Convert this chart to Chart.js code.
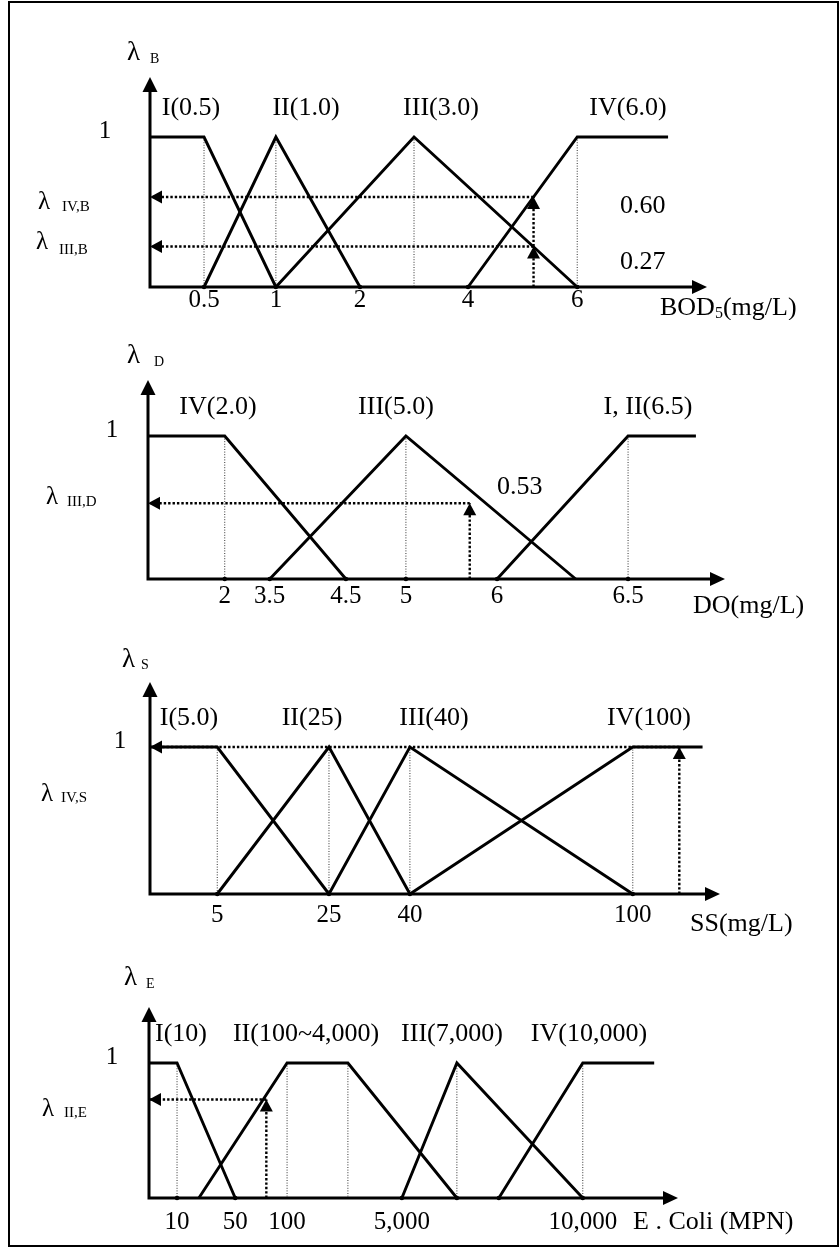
<!DOCTYPE html>
<html>
<head>
<meta charset="utf-8">
<script src="https://cdn.jsdelivr.net/npm/chart.js@4.4.1/dist/chart.umd.min.js"></script>
<style>
  html, body { margin: 0; padding: 0; background: #fff; }
  #page { position: relative; width: 840px; height: 1248px; overflow: hidden; background: #fff; }
  #frame { position: absolute; left: 8px; top: 1px; width: 827px; height: 1242px; border: 2px solid #000; }
  .panel { position: absolute; left: 0; width: 840px; }
  .panel canvas { display: block; }
</style>
</head>
<body>
<div id="page">
  <div id="frame"></div>
  <div class="panel" style="top:0px"><canvas id="bod" width="840" height="320"></canvas></div>
  <div class="panel" style="top:320px"><canvas id="do" width="840" height="300"></canvas></div>
  <div class="panel" style="top:620px"><canvas id="ss" width="840" height="320"></canvas></div>
  <div class="panel" style="top:940px"><canvas id="ecoli" width="840" height="300"></canvas></div>
</div>
<script>
// ---------------- BOD5 (mg/L) ----------------
const bodStopValues = [0, 0.5, 1, 2, 3, 4, 6, 8];
const bodTickValues = [0.5, 1, 2, 4, 6];
const bodTickLabels = ['0.5', '1', '2', '4', '6'];
const bodClassNames = ['I(0.5)', 'II(1.0)', 'III(3.0)', 'IV(6.0)'];
const bodGradeI   = [[0, 1], [0.5, 1], [1, 0]];
const bodGradeII  = [[0.5, 0], [1, 1], [2, 0]];
const bodGradeIII = [[1, 0], [3, 1], [6, 0]];
const bodGradeIV  = [[4, 0], [6, 1], [7.4, 1]];
const bodPeaks = [0.5, 1, 3, 6];
const bodKnots = [0.5, 1, 2, 4, 6];
const bodSample = 5.2;
const bodSampleGrades = [0.60, 0.27];

// ---------------- DO (mg/L) ----------------
const doStopValues = [0, 2, 3.5, 4.5, 5, 6, 6.5, 7.5];
const doTickValues = [2, 3.5, 4.5, 5, 6, 6.5];
const doTickLabels = ['2', '3.5', '4.5', '5', '6', '6.5'];
const doClassNames = ['IV(2.0)', 'III(5.0)', 'I, II(6.5)'];
const doGradeIV   = [[0, 1], [2, 1], [4.5, 0]];
const doGradeIII  = [[3.5, 0], [5, 1], [6.3, 0]];
const doGradeI_II = [[6, 0], [6.5, 1], [7.2, 1]];
const doPeaks = [2, 5, 6.5];
const doKnots = [2, 3.5, 4.5, 5, 6, 6.5];
const doSample = 5.7;
const doSampleGrades = [0.53];

// ---------------- SS (mg/L) ----------------
const ssStopValues = [0, 5, 25, 40, 100, 130];
const ssTickValues = [5, 25, 40, 100];
const ssTickLabels = ['5', '25', '40', '100'];
const ssClassNames = ['I(5.0)', 'II(25)', 'III(40)', 'IV(100)'];
const ssGradeI   = [[0, 1], [5, 1], [25, 0]];
const ssGradeII  = [[5, 0], [25, 1], [40, 0]];
const ssGradeIII = [[25, 0], [40, 1], [100, 0]];
const ssGradeIV  = [[40, 0], [100, 1], [124, 1]];
const ssPeaks = [5, 25, 40, 100];
const ssKnots = [5, 25, 40, 100];
const ssSample = 116;
const ssSampleGrades = [1];

// ---------------- E. Coli (MPN) ----------------
const ecStopValues = [0, 10, 50, 100, 4000, 5000, 7000, 10000, 12000];
const ecTickValues = [10, 50, 100, 5000, 10000];
const ecTickLabels = ['10', '50', '100', '5,000', '10,000'];
const ecClassNames = ['I(10)', 'II(100~4,000)', 'III(7,000)', 'IV(10,000)'];
const ecGradeI   = [[0, 1], [10, 1], [50, 0]];
const ecGradeII  = [[25, 0], [100, 1], [4000, 1], [7000, 0]];
const ecGradeIII = [[5000, 0], [7000, 1], [10000, 0]];
const ecGradeIV  = [[8000, 0], [10000, 1], [11500, 1]];
const ecPeaks = [10, 100, 4000, 7000, 10000];
const ecKnots = [10, 50, 5000, 7000, 8000, 10000];
const ecSample = 80;
const ecSampleGrades = [0.73];

// Spacing of the schematic axes: share of axis length at each stop value
const bodStopSpots = [0, 0.097, 0.226, 0.377, 0.474, 0.571, 0.767, 1];
const doStopSpots  = [0, 0.133, 0.211, 0.343, 0.447, 0.605, 0.832, 1];
const ssStopSpots  = [0, 0.118, 0.314, 0.456, 0.847, 1];
const ecStopSpots  = [0, 0.053, 0.163, 0.261, 0.376, 0.478, 0.582, 0.820, 1];

// ---------------- piecewise-linear axis ----------------
function piecewise(from, to, v) {
  const n = from.length;
  if (v <= from[0]) return to[0] + (v - from[0]) * (to[1] - to[0]) / (from[1] - from[0]);
  for (let i = 1; i < n; i++) {
    if (v <= from[i]) {
      const t = (v - from[i - 1]) / (from[i] - from[i - 1]);
      return to[i - 1] + t * (to[i] - to[i - 1]);
    }
  }
  return to[n - 1] + (v - from[n - 1]) * (to[n - 1] - to[n - 2]) / (from[n - 1] - from[n - 2]);
}

class PiecewiseScale extends Chart.LinearScale {
  determineDataLimits() {
    const s = this.options.stopValues;
    this.min = s[0];
    this.max = s[s.length - 1];
  }
  buildTicks() {
    return this.options.tickValues.map(value => ({ value }));
  }
  getPixelForValue(value) {
    const o = this.options;
    return this.getPixelForDecimal(piecewise(o.stopValues, o.stopSpots, value));
  }
  getValueForPixel(pixel) {
    const o = this.options;
    return piecewise(o.stopSpots, o.stopValues, this.getDecimalForPixel(pixel));
  }
}
PiecewiseScale.id = 'piecewise';
PiecewiseScale.defaults = { ticks: { callback: v => String(v) } };
Chart.register(PiecewiseScale);

Chart.defaults.font.family = "'Liberation Serif', 'Times New Roman', serif";
Chart.defaults.color = '#000';

// ---------------- dataset builders ----------------
const pts = arr => arr.map(([x, y]) => ({ x, y }));

function gradeLine(arr) {
  return { data: pts(arr), borderColor: '#000', borderWidth: 2.9, pointRadius: 0,
           borderJoinStyle: 'miter', borderCapStyle: 'butt', fill: false, order: 2, clip: false };
}
function guideLines(peaks) {
  return peaks.map(p => ({ data: pts([[p, 1], [p, 0]]), borderColor: '#333', borderWidth: 1,
           borderDash: [1, 1.6], pointRadius: 0, fill: false, order: 3, clip: false }));
}
function knotDots(knots) {
  return { data: knots.map(k => ({ x: k, y: 0 })), showLine: false, pointRadius: 2.3,
           pointBackgroundColor: '#000', pointBorderWidth: 0, order: 0, clip: false };
}
function arrowLine(arr) {
  return { data: pts(arr), borderColor: '#000', borderWidth: 2.4, borderDash: [2.4, 2],
           pointRadius: 0, fill: false, order: 1, clip: false, arrowHead: true };
}
function readingArrows(x, grades) {
  const out = [];
  let from = 0;
  [...grades].sort((a, b) => a - b).forEach(g => { out.push(arrowLine([[x, from], [x, g]])); from = g; });
  grades.forEach(g => out.push(arrowLine([[x, g], [0, g]])));
  return out;
}

// ---------------- drawing helpers ----------------
const SERIF = "'Liberation Serif', 'Times New Roman', serif";

function head(ctx, tx, ty, ang, len, half) {
  const c = Math.cos(ang), s = Math.sin(ang);
  ctx.beginPath();
  ctx.moveTo(tx, ty);
  ctx.lineTo(tx - len * c - half * s, ty - len * s + half * c);
  ctx.lineTo(tx - len * c + half * s, ty - len * s - half * c);
  ctx.closePath();
  ctx.fill();
}

function drawRuns(ctx, x, y, runs, align, baseline) {
  ctx.textBaseline = baseline || 'middle';
  let total = 0;
  runs.forEach(r => { ctx.font = r[1] + 'px ' + SERIF; total += ctx.measureText(r[0]).width; });
  let cx = align === 'center' ? x - total / 2 : x;
  ctx.textAlign = 'left';
  runs.forEach(r => {
    ctx.font = r[1] + 'px ' + SERIF;
    ctx.fillText(r[0], cx, y + (r[2] || 0));
    cx += ctx.measureText(r[0]).width;
  });
}

function decorPlugin(panel) {
  return {
    id: 'decor_' + panel.id,
    beforeDatasetsDraw(chart) {
      const ctx = chart.ctx;
      const { left, right, top, bottom } = chart.chartArea;
      ctx.save();
      ctx.strokeStyle = '#000';
      ctx.fillStyle = '#000';
      ctx.lineWidth = 3;
      ctx.beginPath();
      ctx.moveTo(left, bottom + 1.5);
      ctx.lineTo(left, top + 12);
      ctx.moveTo(left - 1.5, bottom);
      ctx.lineTo(right - 12, bottom);
      ctx.stroke();
      head(ctx, left, top, -Math.PI / 2, 15, 7.5);
      head(ctx, right, bottom, 0, 15, 7);
      ctx.restore();
    },
    afterDatasetsDraw(chart) {
      const ctx = chart.ctx;
      ctx.save();
      ctx.fillStyle = '#000';
      chart.data.datasets.forEach((ds, i) => {
        if (!ds.arrowHead) return;
        const el = chart.getDatasetMeta(i).data;
        const a = el[el.length - 2], b = el[el.length - 1];
        head(ctx, b.x, b.y, Math.atan2(b.y - a.y, b.x - a.x), 12, 6.5);
      });
      const y1 = chart.scales.y.getPixelForValue(1);
      panel.classNames.forEach((name, k) => {
        drawRuns(ctx, panel.classX[k], y1 - 29, [[name, 26]], 'center');
      });
      drawRuns(ctx, panel.oneX, y1 - 6, [['1', 25]], 'center');
      panel.notes.forEach(n => {
        drawRuns(ctx, n.x, n.y - panel.top, n.runs, n.align || 'left', n.baseline);
      });
      ctx.restore();
    }
  };
}

// ---------------- panels ----------------
const panels = [
  {
    id: 'bod', top: 0, height: 320, left: 150, right: 707, axisTop: 77, axisBottom: 287, one: 137, tickPad: 1,
    stopValues: bodStopValues, stopSpots: bodStopSpots, tickValues: bodTickValues, tickLabels: bodTickLabels,
    lines: [bodGradeI, bodGradeII, bodGradeIII, bodGradeIV], peaks: bodPeaks, knots: bodKnots,
    sample: bodSample, sampleGrades: bodSampleGrades,
    classNames: bodClassNames, classX: [191, 306, 441, 628], oneX: 105,
    notes: [
      { x: 127, y: 60, baseline: 'alphabetic', runs: [['λ', 27]] },
      { x: 150, y: 63, baseline: 'alphabetic', runs: [['B', 14]] },
      { x: 38, y: 209, baseline: 'alphabetic', runs: [['λ', 25]] },
      { x: 62, y: 211, baseline: 'alphabetic', runs: [['IV,B', 15]] },
      { x: 36, y: 249, baseline: 'alphabetic', runs: [['λ', 25]] },
      { x: 59, y: 254, baseline: 'alphabetic', runs: [['III,B', 15]] },
      { x: 620, y: 206, runs: [['0.60', 26]] },
      { x: 620, y: 262, runs: [['0.27', 26]] },
      { x: 660, y: 308, runs: [['BOD', 26], ['5', 16, 6], ['(mg/L)', 26]] }
    ]
  },
  {
    id: 'do', top: 320, height: 300, left: 148, right: 725, axisTop: 380, axisBottom: 579, one: 436, tickPad: 5,
    stopValues: doStopValues, stopSpots: doStopSpots, tickValues: doTickValues, tickLabels: doTickLabels,
    lines: [doGradeIV, doGradeIII, doGradeI_II], peaks: doPeaks, knots: doKnots,
    sample: doSample, sampleGrades: doSampleGrades,
    classNames: doClassNames, classX: [218, 396, 648], oneX: 112,
    notes: [
      { x: 127, y: 363, baseline: 'alphabetic', runs: [['λ', 27]] },
      { x: 154, y: 366, baseline: 'alphabetic', runs: [['D', 14]] },
      { x: 46, y: 504, baseline: 'alphabetic', runs: [['λ', 25]] },
      { x: 67, y: 506, baseline: 'alphabetic', runs: [['III,D', 15]] },
      { x: 497, y: 487, runs: [['0.53', 26]] },
      { x: 693, y: 606, runs: [['DO(mg/L)', 26]] }
    ]
  },
  {
    id: 'ss', top: 620, height: 320, left: 150, right: 720, axisTop: 682, axisBottom: 894, one: 747, tickPad: 9,
    stopValues: ssStopValues, stopSpots: ssStopSpots, tickValues: ssTickValues, tickLabels: ssTickLabels,
    lines: [ssGradeI, ssGradeII, ssGradeIII, ssGradeIV], peaks: ssPeaks, knots: ssKnots,
    sample: ssSample, sampleGrades: ssSampleGrades,
    classNames: ssClassNames, classX: [189, 312, 434, 649], oneX: 120,
    notes: [
      { x: 122, y: 667, baseline: 'alphabetic', runs: [['λ', 27]] },
      { x: 141, y: 669, baseline: 'alphabetic', runs: [['S', 14]] },
      { x: 41, y: 801, baseline: 'alphabetic', runs: [['λ', 25]] },
      { x: 61, y: 802, baseline: 'alphabetic', runs: [['IV,S', 15]] },
      { x: 690, y: 924, runs: [['SS(mg/L)', 26]] }
    ]
  },
  {
    id: 'ecoli', top: 940, height: 300, left: 149, right: 678, axisTop: 1007, axisBottom: 1198, one: 1063, tickPad: 12,
    stopValues: ecStopValues, stopSpots: ecStopSpots, tickValues: ecTickValues, tickLabels: ecTickLabels,
    lines: [ecGradeI, ecGradeII, ecGradeIII, ecGradeIV], peaks: ecPeaks, knots: ecKnots,
    sample: ecSample, sampleGrades: ecSampleGrades,
    classNames: ecClassNames, classX: [181, 306, 452, 589], oneX: 112,
    notes: [
      { x: 124, y: 985, baseline: 'alphabetic', runs: [['λ', 27]] },
      { x: 146, y: 988, baseline: 'alphabetic', runs: [['E', 14]] },
      { x: 42, y: 1116, baseline: 'alphabetic', runs: [['λ', 25]] },
      { x: 64, y: 1117, baseline: 'alphabetic', runs: [['II,E', 15]] },
      { x: 633, y: 1222, runs: [['E . Coli (MPN)', 26]] }
    ]
  }
];

panels.forEach(p => {
  const datasets = [
    knotDots(p.knots),
    ...readingArrows(p.sample, p.sampleGrades),
    ...p.lines.map(gradeLine),
    ...guideLines(p.peaks)
  ];
  const bottomBand = p.height - (p.axisBottom - p.top);
  const yMax = (p.axisBottom - p.axisTop) / (p.axisBottom - p.one);
  new Chart(document.getElementById(p.id), {
    type: 'line',
    data: { datasets },
    options: {
      responsive: false,
      animation: false,
      events: [],
      layout: { padding: { left: p.left, right: 840 - p.right, top: p.axisTop - p.top, bottom: 0 } },
      plugins: { legend: { display: false }, tooltip: { enabled: false } },
      scales: {
        x: {
          type: 'piecewise',
          stopValues: p.stopValues,
          stopSpots: p.stopSpots,
          tickValues: p.tickValues,
          grid: { display: false, drawTicks: false },
          border: { display: false },
          ticks: {
            autoSkip: false, maxRotation: 0, minRotation: 0, padding: p.tickPad,
            font: { size: 25, lineHeight: 1 }, color: '#000',
            callback: (v, i) => p.tickLabels[i]
          },
          afterFit: s => { s.height = bottomBand; }
        },
        y: { type: 'linear', display: false, min: 0, max: yMax }
      }
    },
    plugins: [decorPlugin(p)]
  });
});
</script>
</body>
</html>
